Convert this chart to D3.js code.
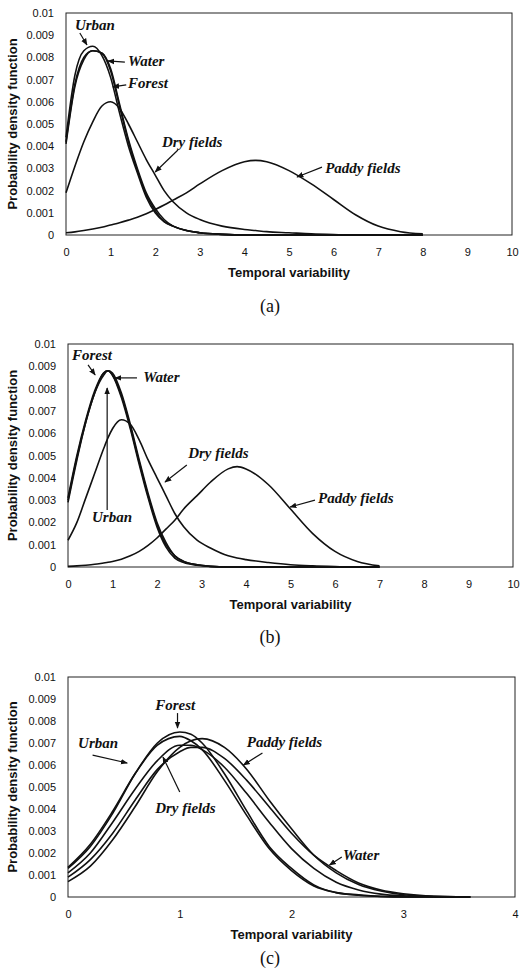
<!DOCTYPE html>
<html lang="en">
<head>
<meta charset="UTF-8">
<title>Temporal variability - probability density</title>
<script src="https://d3js.org/d3.v7.min.js"></script>
<style>
  body { margin: 0; background: #fff; }
  svg { display: block; }
  .tick text { font-family: "Liberation Sans", Arial, sans-serif; font-size: 11px; fill: #111; }
  .axis-title { font-family: "Liberation Sans", Arial, sans-serif; font-size: 13px; font-weight: bold; fill: #111; }
  .note { font-family: "Liberation Serif", "Times New Roman", serif; font-style: italic; font-weight: bold; font-size: 15px; fill: #111; }
  .caption { font-family: "Liberation Serif", "Times New Roman", serif; font-size: 18px; fill: #111; }
</style>
</head>
<body>
<svg id="chart" width="525" height="970"></svg>
<script>
// ---- shared ticks ----
const yTicks = [0, 0.001, 0.002, 0.003, 0.004, 0.005, 0.006, 0.007, 0.008, 0.009, 0.01];
const yTickLabels = ["0", "0.001", "0.002", "0.003", "0.004", "0.005", "0.006", "0.007", "0.008", "0.009", "0.01"];
const xTicksWide = [0, 1, 2, 3, 4, 5, 6, 7, 8, 9, 10];
const xTicksNarrow = [0, 1, 2, 3, 4];

// ---- panel (a) ----
const gridA = [0, 0.2, 0.4, 0.6, 0.8, 1, 1.2, 1.4, 1.6, 1.8, 2, 2.2, 2.4, 2.7, 3, 3.5, 4, 4.25, 4.5, 5, 5.5, 6, 6.5, 7, 7.5, 8];
const urbanA  = [0.0044, 0.0072, 0.0083, 0.0085, 0.0081, 0.0071, 0.0055, 0.0040, 0.0028, 0.0017, 0.0010, 0.0006, 0.0004, 0.0002, 0.0001, 0.00003, 0, 0, 0, 0, 0, 0, 0, 0, 0, 0];
const waterA  = [0.0042, 0.0068, 0.0080, 0.0083, 0.0082, 0.0074, 0.0058, 0.0042, 0.0029, 0.0018, 0.0011, 0.0006, 0.0004, 0.0002, 0.0001, 0.00003, 0, 0, 0, 0, 0, 0, 0, 0, 0, 0];
const forestA = [0.0041, 0.0067, 0.0079, 0.0083, 0.0082, 0.0075, 0.0059, 0.0043, 0.0030, 0.0019, 0.0012, 0.0007, 0.0004, 0.0002, 0.0001, 0.00003, 0, 0, 0, 0, 0, 0, 0, 0, 0, 0];
const dryA    = [0.0019, 0.0031, 0.0042, 0.0051, 0.0058, 0.0060, 0.0057, 0.0050, 0.0042, 0.0034, 0.0027, 0.0020, 0.0015, 0.0010, 0.0007, 0.0004, 0.00025, 0.0002, 0.00015, 0.0001, 0.00005, 0.00002, 0, 0, 0, 0];
const paddyA  = [0.0001, 0.00014, 0.0002, 0.00027, 0.00035, 0.00045, 0.00055, 0.00067, 0.0008, 0.00096, 0.00115, 0.00135, 0.00157, 0.0019, 0.0023, 0.0029, 0.0033, 0.00336, 0.0033, 0.0029, 0.0023, 0.0016, 0.0009, 0.0004, 0.00015, 0.00005];

// ---- panel (b) ----
const gridB = [0, 0.2, 0.4, 0.6, 0.8, 0.9, 1, 1.2, 1.4, 1.6, 1.8, 2, 2.2, 2.4, 2.6, 2.9, 3.2, 3.6, 3.8, 4, 4.5, 5, 5.5, 6, 6.5, 7];
const forestB = [0.0031, 0.0050, 0.0066, 0.0079, 0.0087, 0.0088, 0.0086, 0.0077, 0.0063, 0.0047, 0.0032, 0.0019, 0.0010, 0.0005, 0.00025, 0.0001, 0.00003, 0, 0, 0, 0, 0, 0, 0, 0, 0];
const waterB  = [0.0029, 0.0048, 0.0065, 0.0078, 0.0087, 0.0088, 0.0087, 0.0078, 0.0064, 0.0048, 0.0033, 0.0020, 0.0011, 0.0005, 0.00025, 0.0001, 0.00003, 0, 0, 0, 0, 0, 0, 0, 0, 0];
const urbanB  = [0.0030, 0.0049, 0.0065, 0.0078, 0.0086, 0.0088, 0.0086, 0.0076, 0.0062, 0.0046, 0.0031, 0.0018, 0.0009, 0.0004, 0.0002, 0.00008, 0.00002, 0, 0, 0, 0, 0, 0, 0, 0, 0];
const dryB    = [0.0012, 0.0020, 0.0031, 0.0042, 0.0053, 0.0058, 0.0062, 0.0066, 0.0064, 0.0057, 0.0048, 0.0040, 0.0032, 0.0024, 0.0018, 0.0012, 0.00085, 0.0005, 0.0004, 0.00033, 0.0002, 0.0001, 0.00005, 0.00002, 0, 0];
const paddyB  = [0.00003, 0.00005, 0.00008, 0.00012, 0.00018, 0.00021, 0.00025, 0.00035, 0.0005, 0.0007, 0.00097, 0.0013, 0.0017, 0.0021, 0.0026, 0.0032, 0.0038, 0.0044, 0.0045, 0.0044, 0.0037, 0.0026, 0.0015, 0.0007, 0.00025, 0.00005];

// ---- panel (c) ----
const gridC = [0, 0.2, 0.4, 0.6, 0.8, 1, 1.1, 1.2, 1.4, 1.6, 1.8, 2, 2.2, 2.4, 2.6, 2.8, 3, 3.2, 3.6];
const forestC = [0.0013, 0.0023, 0.0038, 0.0056, 0.0070, 0.0075, 0.0074, 0.0070, 0.0056, 0.0039, 0.0023, 0.0013, 0.00055, 0.0002, 0.0001, 0.00003, 0, 0, 0];
const urbanC  = [0.00135, 0.0024, 0.0039, 0.0056, 0.0069, 0.0073, 0.0071, 0.0067, 0.0053, 0.0037, 0.0022, 0.0012, 0.0005, 0.0002, 0.00008, 0.00002, 0, 0, 0];
const dryC    = [0.0011, 0.0020, 0.0034, 0.0049, 0.0062, 0.0069, 0.0069, 0.0067, 0.0059, 0.0047, 0.0034, 0.0022, 0.0013, 0.00067, 0.00032, 0.00013, 0.00005, 0.00002, 0];
const waterC  = [0.0009, 0.0017, 0.0029, 0.0044, 0.0058, 0.0066, 0.0068, 0.0068, 0.0063, 0.0053, 0.0041, 0.0029, 0.0019, 0.0012, 0.00064, 0.00032, 0.00015, 0.00006, 0];
const paddyC  = [0.0007, 0.0014, 0.0026, 0.0041, 0.0057, 0.0068, 0.0071, 0.0072, 0.0068, 0.0058, 0.0044, 0.0031, 0.0019, 0.0011, 0.00057, 0.00027, 0.0001, 0.00004, 0];

// label text + anchor in data units, arrow tail -> head in data units
const notesA = [
  { text: "Urban",        at: [0.2, 0.00923],  from: [0.31, 0.0091],   to: [0.47, 0.00856] },
  { text: "Water",        at: [1.39, 0.00761], from: [1.32, 0.00779],  to: [0.94, 0.00784] },
  { text: "Forest",       at: [1.39, 0.00662], from: [1.35, 0.00676],  to: [1.05, 0.00667] },
  { text: "Dry fields",   at: [2.15, 0.00396], from: [2.51, 0.00383],  to: [2.0, 0.00284] },
  { text: "Paddy fields", at: [5.81, 0.00279], from: [5.74, 0.00306],  to: [5.18, 0.00261] }
];
const notesB = [
  { text: "Forest",       at: [0.09, 0.00928], from: [0.45, 0.00906],  to: [0.61, 0.00861] },
  { text: "Water",        at: [1.69, 0.0083],  from: [1.55, 0.00848],  to: [1.06, 0.00848] },
  { text: "Urban",        at: [0.54, 0.00202], from: [0.88, 0.00256],  to: [0.88, 0.00803] },
  { text: "Dry fields",   at: [2.7, 0.00489],  from: [2.67, 0.00457],  to: [2.18, 0.00381] },
  { text: "Paddy fields", at: [5.62, 0.00287], from: [5.55, 0.003],    to: [4.99, 0.00269] }
];
const notesC = [
  { text: "Forest",       at: [0.78, 0.0085],  from: [0.98, 0.00836],  to: [0.98, 0.00768] },
  { text: "Urban",        at: [0.09, 0.00677], from: [0.22, 0.00645],  to: [0.53, 0.00609] },
  { text: "Paddy fields", at: [1.6, 0.00682],  from: [1.74, 0.00655],  to: [1.57, 0.006] },
  { text: "Dry fields",   at: [0.78, 0.00382], from: [1.0, 0.00477],   to: [0.85, 0.00636] },
  { text: "Water",        at: [2.46, 0.00168], from: [2.45, 0.00182],  to: [2.34, 0.00145] }
];

const panels = [
  { left: 66, right: 512, top: 13,  bottom: 235, xMax: 10, xTicks: xTicksWide,
    grid: gridA, series: [urbanA, waterA, forestA, dryA, paddyA], notes: notesA,
    caption: "(a)", capY: 313 },
  { left: 68, right: 513, top: 344, bottom: 567, xMax: 10, xTicks: xTicksWide,
    grid: gridB, series: [forestB, waterB, urbanB, dryB, paddyB], notes: notesB,
    caption: "(b)", capY: 644 },
  { left: 68, right: 515, top: 677, bottom: 897, xMax: 4, xTicks: xTicksNarrow,
    grid: gridC, series: [forestC, urbanC, dryC, waterC, paddyC], notes: notesC,
    caption: "(c)", capY: 965 }
];

const svg = d3.select("#chart");

svg.append("defs").append("marker")
  .attr("id", "head")
  .attr("viewBox", "0 0 10 10")
  .attr("refX", 9).attr("refY", 5)
  .attr("markerWidth", 7).attr("markerHeight", 7)
  .attr("markerUnits", "userSpaceOnUse")
  .attr("orient", "auto")
  .append("path")
  .attr("d", "M0,1 L10,5 L0,9 Z")
  .attr("fill", "#111");

panels.forEach(p => {
  const x = d3.scaleLinear().domain([0, p.xMax]).range([p.left, p.right]);
  const y = d3.scaleLinear().domain([0, 0.01]).range([p.bottom, p.top]);

  // plot frame
  svg.append("rect")
    .attr("x", p.left).attr("y", p.top)
    .attr("width", p.right - p.left).attr("height", p.bottom - p.top)
    .attr("fill", "none").attr("stroke", "#222").attr("stroke-width", 1);

  const gy = svg.append("g")
    .attr("transform", `translate(${p.left},0)`)
    .call(d3.axisLeft(y).tickValues(yTicks).tickFormat((d, i) => yTickLabels[i]).tickSize(0).tickPadding(12));
  gy.select(".domain").remove();

  const gx = svg.append("g")
    .attr("transform", `translate(0,${p.bottom})`)
    .call(d3.axisBottom(x).tickValues(p.xTicks).tickFormat(d => String(d)).tickSize(0).tickPadding(13));
  gx.select(".domain").remove();

  // curves
  const line = d3.line()
    .x(d => x(d[0]))
    .y(d => y(d[1]))
    .curve(d3.curveMonotoneX);

  p.series.forEach(vals => {
    svg.append("path")
      .datum(p.grid.map((g, i) => [g, vals[i]]))
      .attr("d", line)
      .attr("fill", "none")
      .attr("stroke", "#111")
      .attr("stroke-width", 1.6);
  });

  // annotations
  p.notes.forEach(n => {
    svg.append("line")
      .attr("x1", x(n.from[0])).attr("y1", y(n.from[1]))
      .attr("x2", x(n.to[0])).attr("y2", y(n.to[1]))
      .attr("stroke", "#111").attr("stroke-width", 1.2)
      .attr("marker-end", "url(#head)");
    svg.append("text")
      .attr("class", "note")
      .attr("x", x(n.at[0])).attr("y", y(n.at[1]))
      .text(n.text);
  });

  // axis titles
  svg.append("text")
    .attr("class", "axis-title")
    .attr("text-anchor", "middle")
    .attr("x", (p.left + p.right) / 2)
    .attr("y", p.bottom + 42)
    .text("Temporal variability");

  svg.append("text")
    .attr("class", "axis-title")
    .attr("text-anchor", "middle")
    .attr("transform", `translate(17,${(p.top + p.bottom) / 2}) rotate(-90)`)
    .text("Probability density function");

  svg.append("text")
    .attr("class", "caption")
    .attr("text-anchor", "middle")
    .attr("x", 270)
    .attr("y", p.capY - 1)
    .text(p.caption);
});
</script>
</body>
</html>
